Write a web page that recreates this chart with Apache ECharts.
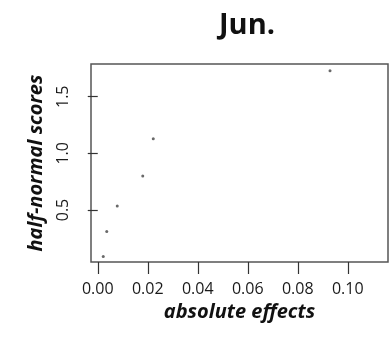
<!DOCTYPE html>
<html>
<head>
<meta charset="utf-8">
<script src="https://cdn.jsdelivr.net/npm/echarts@6/dist/echarts.min.js"></script>
<style>
  html, body { margin: 0; padding: 0; background: #fff; }
  #chart { width: 391px; height: 342px; }
</style>
</head>
<body>
<div id="chart"></div>
<script>
// absolute effects vs half-normal scores, June
const absEffects = [0.0022, 0.0036, 0.0078, 0.0180, 0.0222, 0.0929];
const halfNormalScores = [0.09, 0.31, 0.535, 0.80, 1.13, 1.73];
const xTicks = [0, 0.02, 0.04, 0.06, 0.08, 0.10];
const yTicks = [0.5, 1.0, 1.5];

const font = "'Open Sans', 'DejaVu Sans', sans-serif";
const chart = echarts.init(document.getElementById("chart"));

chart.setOption({
  animation: false,
  title: {
    text: "Jun.",
    left: 214,
    top: 6,
    textStyle: { fontFamily: font, fontSize: 29, fontWeight: "bold", color: "#111" },
  },
  grid: {
    left: 91, right: 3, top: 64, bottom: 80,
    show: true, borderColor: "#555", borderWidth: 1.5, backgroundColor: "#fff",
  },
  xAxis: {
    type: "value",
    min: -0.0027,
    max: 0.1161,
    name: "absolute effects",
    nameLocation: "middle",
    nameGap: 31,
    nameTextStyle: { fontFamily: font, fontSize: 20, fontWeight: "bold", fontStyle: "italic", color: "#111" },
    axisLine: { show: false },
    splitLine: { show: false },
    axisTick: { show: true, length: 12, lineStyle: { color: "#333", width: 1.2 }, customValues: xTicks },
    axisLabel: {
      margin: 19,
      fontFamily: font, fontSize: 16, color: "#1a1a1a",
      customValues: xTicks,
      formatter: (v) => v.toFixed(2),
    },
  },
  yAxis: {
    type: "value",
    min: 0.041,
    max: 1.789,
    name: "half-normal scores",
    nameLocation: "middle",
    nameGap: 45,
    nameRotate: 90,
    nameTextStyle: { fontFamily: font, fontSize: 20, fontWeight: "bold", fontStyle: "italic", color: "#111" },
    axisLine: { show: false },
    splitLine: { show: false },
    axisTick: { show: true, length: 10, lineStyle: { color: "#333", width: 1.2 }, customValues: yTicks },
    axisLabel: {
      margin: 20,
      rotate: 90,
      fontFamily: font, fontSize: 16, color: "#1a1a1a",
      customValues: yTicks,
      formatter: (v) => v.toFixed(1),
    },
  },
  series: [
    {
      type: "scatter",
      symbol: "circle",
      symbolSize: 3,
      itemStyle: { color: "#444" },
      data: absEffects.map((x, i) => [x, halfNormalScores[i]]),
    },
  ],
});
</script>
</body>
</html>
